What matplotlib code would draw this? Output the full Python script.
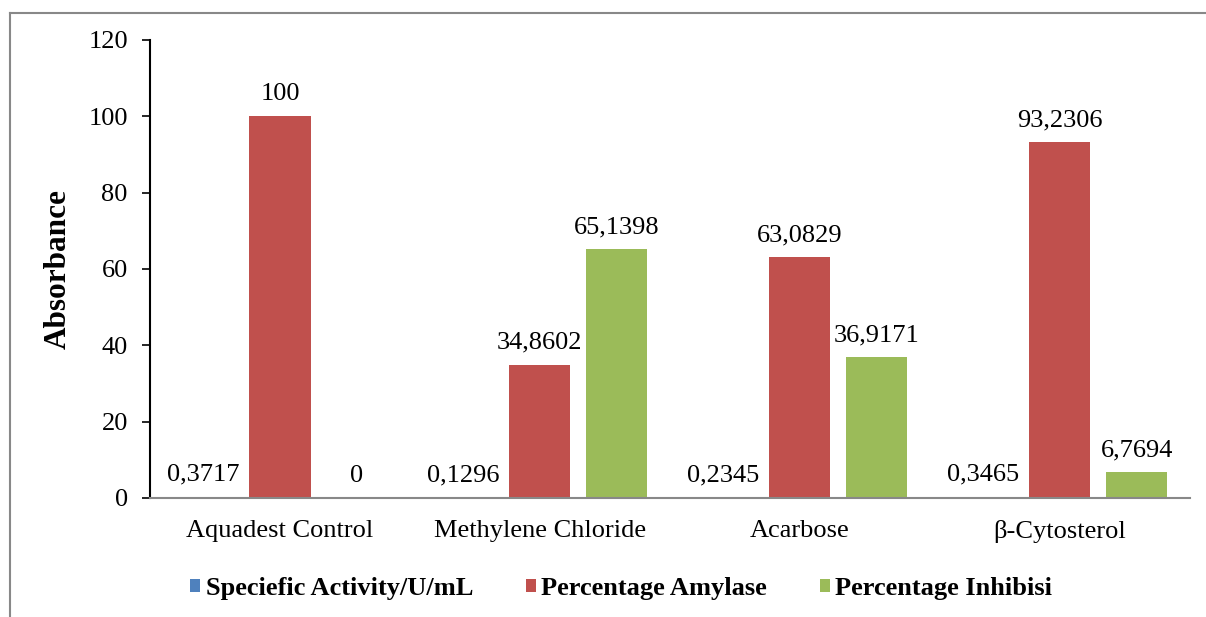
import matplotlib.pyplot as plt
import numpy as np

plt.rcParams['font.family'] = ['Liberation Serif', 'DejaVu Serif']

categories = ['Aquadest Control', 'Methylene Chloride', 'Acarbose', 'β-Cytosterol']
specific_activity = [0.3717, 0.1296, 0.2345, 0.3465]
percentage_amylase = [100, 34.8602, 63.0829, 93.2306]
percentage_inhibisi = [0, 65.1398, 36.9171, 6.7694]

series = [
    ('Speciefic Activity/U/mL', specific_activity, '#4F81BD'),
    ('Percentage Amylase', percentage_amylase, '#C0504D'),
    ('Percentage Inhibisi', percentage_inhibisi, '#9BBB59'),
]

fig = plt.figure(figsize=(12.06, 6.17), dpi=100)
ax = fig.add_axes([0.1244, 0.1929, 0.862, 0.7423])

x = np.arange(len(categories))
width = 0.235
step = 0.296

handles = []
for i, (name, vals, color) in enumerate(series):
    pos = x + (i - 1) * step
    bars = ax.bar(pos, vals, width, color=color, label=name, zorder=2)
    handles.append(bars)
    for xp, v in zip(pos, vals):
        txt = f'{v:.4f}'.rstrip('0').rstrip('.').replace('.', ',')
        ax.annotate(txt, (xp, v), xytext=(0, 8), textcoords='offset points',
                    ha='center', va='bottom', fontsize=19)

ax.set_xlim(-0.5, len(categories) - 0.5)
ax.set_ylim(0, 120)
ax.set_yticks(range(0, 121, 20))
ax.set_xticks(x)
ax.set_xticklabels(categories)
ax.tick_params(axis='x', length=0, pad=16, labelsize=19)
ax.tick_params(axis='y', length=6, width=1.2, pad=10, labelsize=19)

for side in ['top', 'right']:
    ax.spines[side].set_visible(False)
ax.spines['left'].set_color('black')
ax.spines['left'].set_linewidth(1.5)
ax.spines['bottom'].set_color('#888888')
ax.spines['bottom'].set_linewidth(1.5)

ax.set_ylabel('Absorbance', fontsize=22.5, fontweight='bold', labelpad=11)

leg = fig.legend(handles=handles, loc='center', bbox_to_anchor=(0.515, 0.046),
                 ncol=3, frameon=False, handlelength=0.38, handleheight=0.38,
                 handletextpad=0.2, columnspacing=2.0,
                 prop={'size': 19, 'weight': 'bold'})

# outer chart frame (top and left edges)
fig.add_artist(plt.Line2D([0.0083, 1.0], [0.979, 0.979], transform=fig.transFigure,
                          color='#888888', linewidth=1.5))
fig.add_artist(plt.Line2D([0.0083, 0.0083], [0.0, 0.979], transform=fig.transFigure,
                          color='#888888', linewidth=1.5))

fig.savefig('out.png', dpi=100)
